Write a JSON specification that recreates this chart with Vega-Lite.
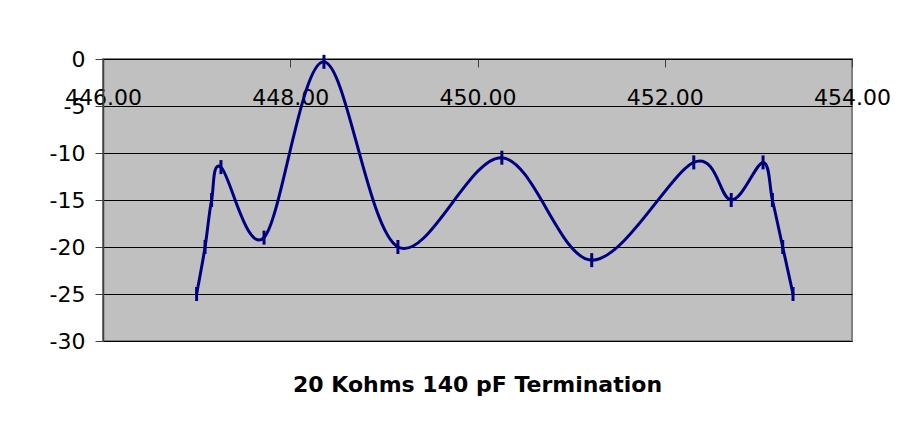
{
  "$schema": "https://vega.github.io/schema/vega-lite/v6.json",
  "autosize": {"type": "none"},
  "width": 749,
  "height": 282,
  "padding": {"left": 103, "top": 59, "right": 71, "bottom": 98},
  "background": "white",
  "config": {
    "font": "DejaVu Sans",
    "view": {"fill": "#C0C0C0", "stroke": "#808080", "strokeWidth": 2}
  },
  "title": {
    "text": "20 Kohms 140 pF Termination",
    "orient": "bottom",
    "anchor": "middle",
    "font": "DejaVu Sans",
    "fontSize": 22,
    "fontWeight": "bold",
    "color": "#000000",
    "offset": 23
  },
  "data": {
    "values": [
      {"freq": 447.00, "db": -25.0},
      {"freq": 447.09, "db": -20.0},
      {"freq": 447.16, "db": -15.0},
      {"freq": 447.26, "db": -11.5},
      {"freq": 447.72, "db": -19.0},
      {"freq": 448.36, "db": -0.3},
      {"freq": 449.15, "db": -20.0},
      {"freq": 450.26, "db": -10.5},
      {"freq": 451.22, "db": -21.4},
      {"freq": 452.31, "db": -11.0},
      {"freq": 452.71, "db": -15.0},
      {"freq": 453.05, "db": -11.0},
      {"freq": 453.15, "db": -15.0},
      {"freq": 453.26, "db": -20.0},
      {"freq": 453.37, "db": -25.0}
    ]
  },
  "encoding": {
    "x": {
      "field": "freq",
      "type": "quantitative",
      "scale": {"domain": [446, 454], "nice": false, "zero": false},
      "axis": {
        "orient": "top",
        "title": null,
        "values": [446, 448, 450, 452, 454],
        "format": ".2f",
        "grid": false,
        "domain": false,
        "ticks": true,
        "tickSize": -8,
        "tickColor": "#404040",
        "tickWidth": 1,
        "labelFontSize": 22,
        "labelFont": "DejaVu Sans",
        "labelColor": "#000000",
        "labelPadding": -42,
        "labelFlush": false,
        "labelOverlap": false
      }
    },
    "y": {
      "field": "db",
      "type": "quantitative",
      "scale": {"domain": [-30, 0], "nice": false},
      "axis": {
        "title": null,
        "values": [0, -5, -10, -15, -20, -25, -30],
        "labelExpr": "'' + datum.value",
        "grid": true,
        "gridColor": "#000000",
        "gridWidth": 1,
        "gridOpacity": 1,
        "domain": true,
        "domainColor": "#404040",
        "domainWidth": 1.5,
        "ticks": true,
        "tickSize": 8,
        "tickColor": "#404040",
        "tickWidth": 1,
        "labelFontSize": 22,
        "labelFont": "DejaVu Sans",
        "labelColor": "#000000",
        "labelPadding": 10,
        "labelOverlap": false
      }
    }
  },
  "layer": [
    {
      "mark": {"type": "line", "interpolate": "cardinal", "tension": 0, "color": "#000080", "strokeWidth": 3}
    },
    {
      "mark": {"type": "tick", "orient": "vertical", "color": "#000080", "size": 14, "thickness": 3, "opacity": 1}
    }
  ]
}
